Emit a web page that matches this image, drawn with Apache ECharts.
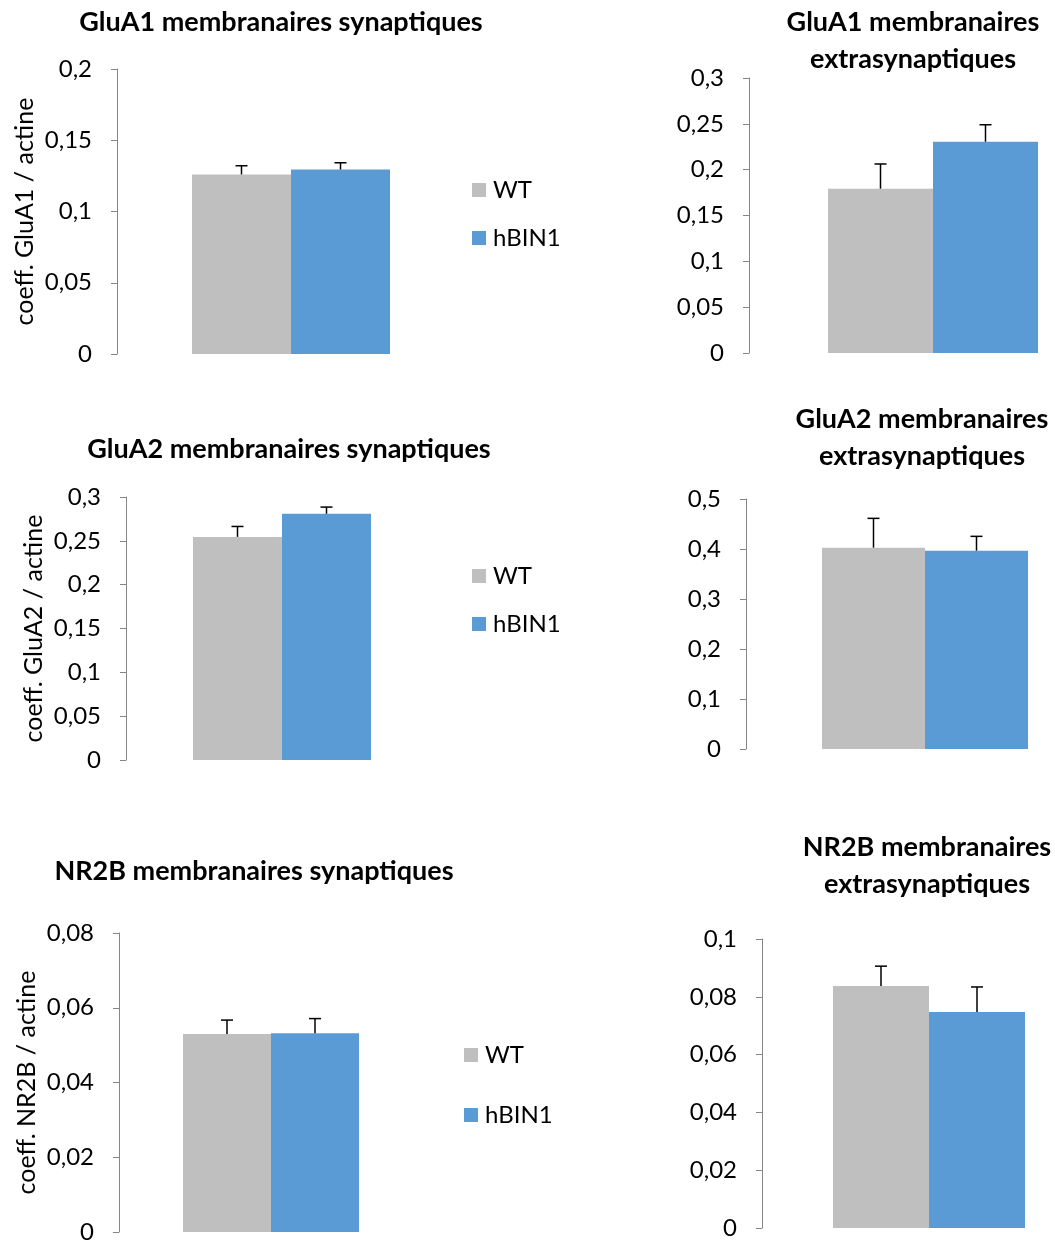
<!DOCTYPE html>
<html>
<head>
<meta charset="utf-8">
<script src="https://cdn.jsdelivr.net/npm/echarts@6/dist/echarts.min.js"></script>
<style>
html,body{margin:0;padding:0;background:#fff;}
#chart{width:1055px;height:1241px;}
</style>
</head>
<body>
<div id="chart"></div>
<script>
// ---- data ----
const seriesNames = ['WT', 'hBIN1'];
const panelTitles = [
  'GluA1 membranaires synaptiques',
  'GluA1 membranaires\nextrasynaptiques',
  'GluA2 membranaires synaptiques',
  'GluA2 membranaires\nextrasynaptiques',
  'NR2B membranaires synaptiques',
  'NR2B membranaires\nextrasynaptiques'
];
const yAxisNames = ['coeff. GluA1 / actine', '', 'coeff. GluA2 / actine', '', 'coeff. NR2B / actine', ''];
const wtMean   = [0.126, 0.1793, 0.2545, 0.4027, 0.0530, 0.0837];
const wtErr    = [0.0061, 0.0269, 0.0119, 0.0586, 0.0037, 0.0069];
const hbinMean = [0.1295, 0.2305, 0.2809, 0.3967, 0.0532, 0.0747];
const hbinErr  = [0.0047, 0.0185, 0.0076, 0.0286, 0.0039, 0.0087];
const yMax     = [0.2, 0.3, 0.3, 0.5, 0.08, 0.1];
const yStep    = [0.05, 0.05, 0.05, 0.1, 0.02, 0.02];

// ---- layout (pixels) ----
const grids = [
  {left:117, top:69,  width:348, height:285, bw:99,  tx:281, ty:4},
  {left:749, top:78,  width:368, height:275, bw:105, tx:913, ty:4},
  {left:126, top:497, width:312, height:263, bw:89,  tx:289, ty:431},
  {left:746, top:499, width:358, height:250, bw:103, tx:922, ty:401},
  {left:119, top:933, width:304, height:299, bw:88,  tx:254, ty:853},
  {left:762, top:939, width:334, height:289, bw:96,  tx:927, ty:829}
];
const legendPos = [
  {left:472, top:178, gap:24},
  {left:472, top:564, gap:24},
  {left:464, top:1043, gap:36}
];

const FONT = 'Lato, "Open Sans", sans-serif';
const COLORS = ['#BFBFBF', '#5B9BD5'];
const fmt = v => String(parseFloat(v.toFixed(4))).replace('.', ',');

const option = {
  animation: false,
  backgroundColor: '#ffffff',
  textStyle: {fontFamily: FONT},
  title: grids.map((g, i) => ({
    text: panelTitles[i],
    left: g.tx, top: g.ty, textAlign: 'center', padding: 0,
    textStyle: {fontFamily: FONT, fontWeight: 'bold', fontSize: 27, lineHeight: 37, color: '#000'}
  })),
  legend: legendPos.map(l => ({
    data: seriesNames,
    orient: 'vertical',
    left: l.left, top: l.top, itemGap: l.gap, padding: 0,
    itemWidth: 14, itemHeight: 14, icon: 'rect',
    selectedMode: false,
    textStyle: {fontFamily: FONT, fontSize: 24, lineHeight: 24, color: '#000', padding: [0, 0, 0, 2]}
  })),
  grid: grids.map(g => ({left: g.left, top: g.top, width: g.width, height: g.height, containLabel: false, outerBoundsMode: 'none'})),
  xAxis: grids.map((g, i) => ({
    type: 'category', gridIndex: i, data: ['x'], show: false
  })),
  yAxis: grids.map((g, i) => ({
    type: 'value', gridIndex: i, min: 0, max: yMax[i], interval: yStep[i],
    name: yAxisNames[i], nameLocation: 'middle', nameGap: 80, nameRotate: 90,
    nameTextStyle: {fontFamily: FONT, fontSize: 25, color: '#000'},
    axisLine: {show: true, lineStyle: {color: '#868686', width: 1}},
    axisTick: {show: true, length: 6, lineStyle: {color: '#868686'}},
    splitLine: {show: false},
    axisLabel: {margin: 25, fontFamily: FONT, fontSize: 24, color: '#000', formatter: fmt}
  })),
  series: []
};

grids.forEach((g, i) => {
  option.series.push({
    name: seriesNames[0], type: 'bar', xAxisIndex: i, yAxisIndex: i,
    data: [wtMean[i]], barWidth: g.bw, barGap: '0%', itemStyle: {color: COLORS[0]}
  });
  option.series.push({
    name: seriesNames[1], type: 'bar', xAxisIndex: i, yAxisIndex: i,
    data: [hbinMean[i]], barWidth: g.bw, barGap: '0%', itemStyle: {color: COLORS[1]}
  });
  option.series.push({
    type: 'custom', xAxisIndex: i, yAxisIndex: i, z: 5, silent: true,
    data: [[0, wtMean[i], wtMean[i] + wtErr[i]], [0, hbinMean[i], hbinMean[i] + hbinErr[i]]],
    renderItem: function (params, api) {
      const side = params.dataIndex === 0 ? -1 : 1;
      const pLo = api.coord([api.value(0), api.value(1)]);
      const pHi = api.coord([api.value(0), api.value(2)]);
      const x = pLo[0] + side * g.bw / 2;
      const cap = 6;
      const st = {stroke: '#000', lineWidth: 1.5, fill: null};
      return {type: 'group', children: [
        {type: 'line', shape: {x1: x, y1: pLo[1], x2: x, y2: pHi[1]}, style: st},
        {type: 'line', shape: {x1: x - cap, y1: pHi[1], x2: x + cap, y2: pHi[1]}, style: st}
      ]};
    }
  });
});

const chart = echarts.init(document.getElementById('chart'), null, {renderer: 'canvas'});
chart.setOption(option);
</script>
</body>
</html>
